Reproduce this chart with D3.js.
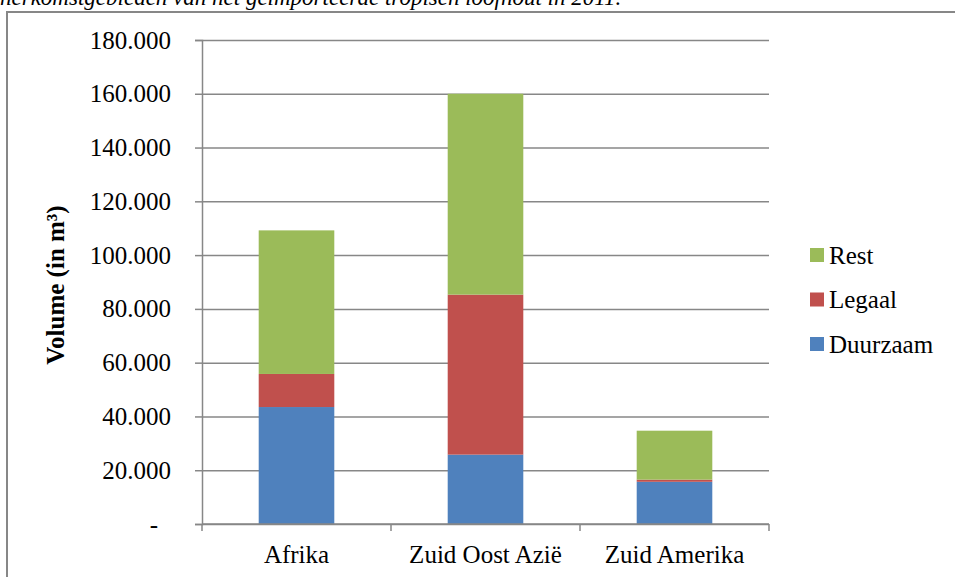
<!DOCTYPE html>
<html>
<head>
<meta charset="utf-8">
<script src="https://cdn.jsdelivr.net/npm/d3@7"></script>
<style>
  body { margin: 0; background: #fff; }
  svg { display: block; }
  svg text { font-family: "Liberation Serif", "Times New Roman", Tinos, "DejaVu Serif Condensed", "DejaVu Serif", serif; }
</style>
</head>
<body>
<div class="canvas"></div>
<script>
// data
const regions = ['Afrika', 'Zuid Oost Azië', 'Zuid Amerika'];
const seriesNames = ['Duurzaam', 'Legaal', 'Rest'];
const duurzaam = [43500, 25800, 15700];
const legaal = [12300, 59500, 800];
const rest = [53400, 74700, 18200];
const yTicks = [0, 20000, 40000, 60000, 80000, 100000, 120000, 140000, 160000, 180000];
const colors = ['#4F81BD', '#C0504D', '#9BBB59'];

const width = 955, height = 577;
const margin = {top: 40, right: 186, bottom: 53, left: 202};
const graphWidth = width - margin.left - margin.right;
const graphHeight = height - margin.top - margin.bottom;

const svg = d3.select('.canvas').append('svg')
    .attr('width', width)
    .attr('height', height);

// caption, cut off at the top of the image
svg.append('text')
    .attr('x', 0)
    .attr('y', 5)
    .attr('font-style', 'italic')
    .attr('font-size', '23px')
    .text('herkomstgebieden van het geïmporteerde tropisch loofhout in 2011.');

// chart frame
svg.append('rect')
    .attr('x', 7).attr('y', 12)
    .attr('width', 1000).attr('height', 1000)
    .attr('fill', 'none')
    .attr('stroke', '#878787')
    .attr('stroke-width', 2);

const graph = svg.append('g')
    .attr('transform', `translate(${margin.left}, ${margin.top})`);

// scales
const x = d3.scaleBand()
    .domain(regions)
    .range([0, graphWidth])
    .paddingInner(0.6)
    .paddingOuter(0.3);
const xCat = d3.scaleBand()
    .domain(regions)
    .range([0, graphWidth]);
const y = d3.scaleLinear()
    .domain([0, 180000])
    .range([graphHeight, 0]);

const nl = d3.formatLocale({decimal: ',', thousands: '.', grouping: [3], currency: ['€', '']});
const fmt = nl.format(',.0f');

// gridlines
const grid = graph.append('g')
    .call(d3.axisLeft(y).tickValues(yTicks).tickSize(-graphWidth).tickFormat(''));
grid.select('.domain').remove();
grid.selectAll('line').attr('stroke', '#878787').attr('stroke-width', 1.5);

// stacked data
const table = regions.map((r, i) => ({region: r, Duurzaam: duurzaam[i], Legaal: legaal[i], Rest: rest[i]}));
const stacked = d3.stack().keys(seriesNames)(table);

graph.selectAll('g.series')
  .data(stacked)
  .enter().append('g')
    .attr('class', 'series')
    .attr('fill', (d, i) => colors[i])
  .selectAll('rect')
  .data(d => d)
  .enter().append('rect')
    .attr('x', d => x(d.data.region))
    .attr('width', x.bandwidth())
    .attr('y', d => y(d[1]))
    .attr('height', d => y(d[0]) - y(d[1]));

// y axis
const yAxisGroup = graph.append('g')
    .attr('font-family', null)
    .call(d3.axisLeft(y).tickValues(yTicks).tickSize(7).tickPadding(24)
        .tickFormat(d => d === 0 ? '-' : fmt(d)));
yAxisGroup.attr('font-family', null).attr('font-size', null);
yAxisGroup.selectAll('line, path').attr('stroke', '#878787').attr('stroke-width', 1.5);
yAxisGroup.selectAll('text')
    .attr('font-size', '25px')
    .attr('fill', '#000');
yAxisGroup.selectAll('.tick').filter(d => d === 0).select('text').attr('dx', -13);

// x axis (category boundaries)
const xAxisGroup = graph.append('g')
    .attr('transform', `translate(0, ${graphHeight})`);
xAxisGroup.append('path')
    .attr('d', `M0,0H${graphWidth}`)
    .attr('stroke', '#878787').attr('stroke-width', 1.5);
const bounds = [0].concat(regions.map(r => xCat(r) + xCat.bandwidth()));
xAxisGroup.selectAll('line.tick')
  .data(bounds)
  .enter().append('line')
    .attr('x1', d => d).attr('x2', d => d)
    .attr('y1', 0).attr('y2', 7)
    .attr('stroke', '#878787').attr('stroke-width', 1.5);
xAxisGroup.selectAll('text')
  .data(regions)
  .enter().append('text')
    .attr('x', d => xCat(d) + xCat.bandwidth() / 2)
    .attr('y', 39)
    .attr('text-anchor', 'middle')
    .attr('font-size', '25px')
    .text(d => d);

// y axis title
svg.append('text')
    .attr('transform', 'translate(64, 285) rotate(-90)')
    .attr('text-anchor', 'middle')
    .attr('font-weight', 'bold')
    .attr('font-size', '25px')
    .text('Volume (in m³)');

// legend
const legendOrder = [2, 1, 0];
const legend = svg.append('g')
    .selectAll('g')
    .data(legendOrder)
    .enter().append('g')
    .attr('transform', (d, i) => `translate(810, ${255 + i * 44.5})`);
legend.append('rect')
    .attr('x', 0).attr('y', -7)
    .attr('width', 14).attr('height', 14)
    .attr('fill', d => colors[d]);
legend.append('text')
    .attr('x', 19)
    .attr('dy', '0.35em')
    .attr('font-size', '25px')
    .text(d => seriesNames[d]);
</script>
</body>
</html>
